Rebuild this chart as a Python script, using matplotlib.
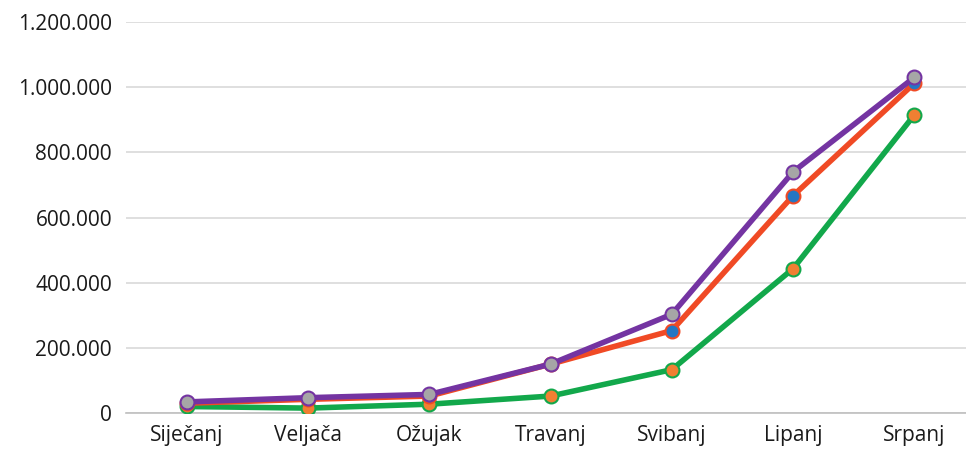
import matplotlib
matplotlib.use("Agg")
import matplotlib.pyplot as plt
from matplotlib.ticker import FuncFormatter

months = ["Siječanj", "Veljača", "Ožujak", "Travanj", "Svibanj", "Lipanj", "Srpanj"]
series_purple = [34000, 47000, 57000, 150000, 303000, 740000, 1030000]
series_red = [30000, 42000, 52000, 150000, 253000, 667000, 1012000]
series_green = [20000, 15000, 27000, 52000, 133000, 443000, 915000]

plt.rcParams["font.family"] = ["Open Sans", "DejaVu Sans"]

fig = plt.figure(figsize=(9.66, 4.55), dpi=100)
ax = fig.add_axes([126 / 966, 1 - 413 / 455, 849 / 966, 391 / 455])

x = range(len(months))
# (values, line colour, marker colour), drawn bottom to top
styles = [
    (series_green, "#12A84B", "#F07F32"),
    (series_red, "#F04A25", "#2476C4"),
    (series_purple, "#7434A2", "#A6A6A6"),
]
for vals, lc, mc in styles:
    ax.plot(x, vals, color=lc, lw=4, marker="o", markersize=10,
            markerfacecolor=mc, markeredgecolor=lc, markeredgewidth=1.5,
            solid_capstyle="round", zorder=3)

ax.set_xlim(-0.5, 6.5)
ax.set_ylim(0, 1200000)
ax.set_yticks(range(0, 1200001, 200000))
ax.yaxis.set_major_formatter(FuncFormatter(lambda v, p: f"{int(v):,}".replace(",", ".")))
ax.set_xticks(list(x))
ax.set_xticklabels(months)

ax.grid(axis="y", color="#D9D9D9", lw=1.2, zorder=0)
for s in ["left", "right", "top"]:
    ax.spines[s].set_visible(False)
ax.spines["bottom"].set_color("#BFBFBF")
ax.spines["bottom"].set_linewidth(1.2)
ax.tick_params(length=0, labelsize=15, colors="#1A1A1A")
ax.tick_params(axis="y", pad=10)
ax.tick_params(axis="x", pad=9)

fig.savefig("out.png", dpi=100)
